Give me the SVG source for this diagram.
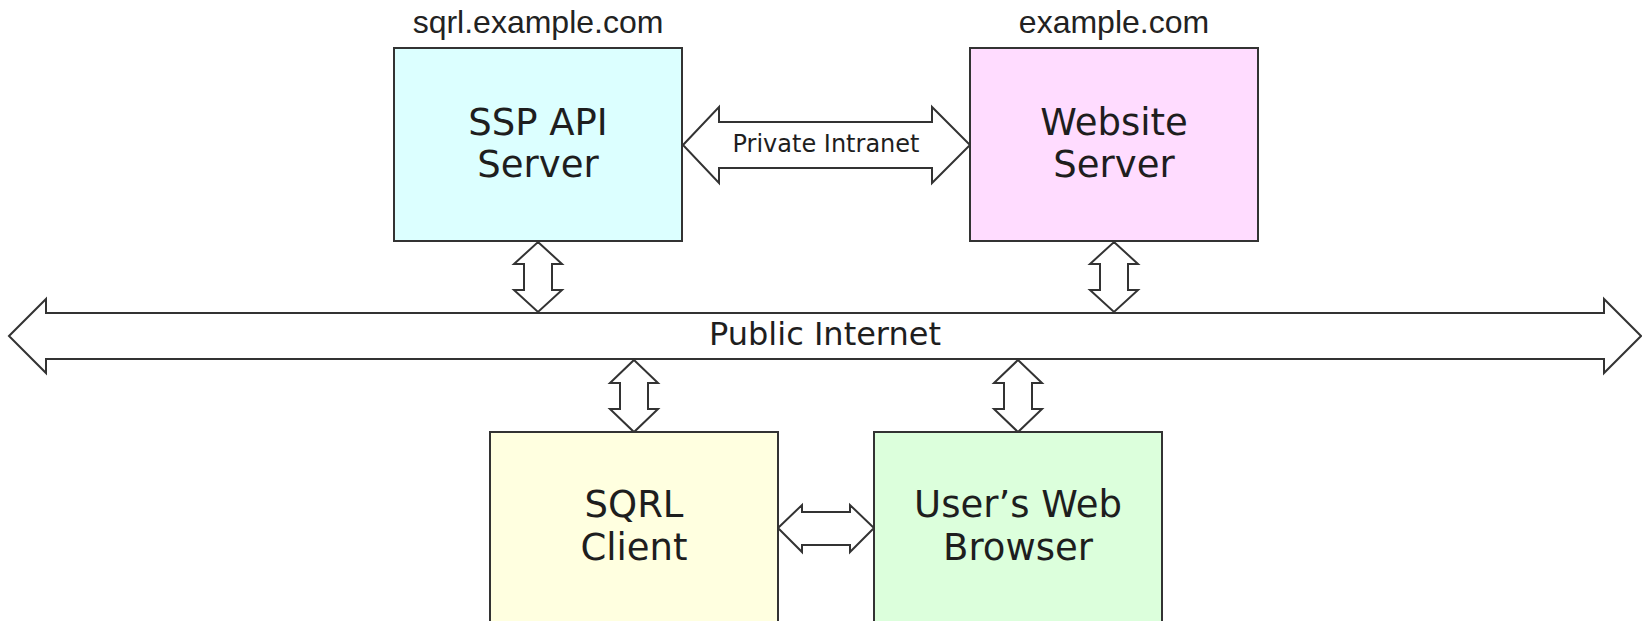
<svg xmlns="http://www.w3.org/2000/svg" width="1642" height="621" viewBox="0 0 1642 621">
  <style>
    .box { stroke: #333333; stroke-width: 2; }
    .pipe { fill: #ffffff; stroke: #333333; stroke-width: 2; stroke-linejoin: miter; }
    .lbl { font-family: "DejaVu Sans", Verdana, sans-serif; fill: #1e1e1e; text-anchor: middle; }
    .big { font-size: 37px; }
    .host { font-family: "Liberation Sans", Arial, sans-serif; font-size: 32px; fill: #222222; text-anchor: middle; }
  </style>

  <rect width="1642" height="621" fill="#ffffff"/>

  <!-- links between machines: hollow double-headed arrows -->
  <g id="connectors">
    <!-- Public Internet bus -->
    <path class="pipe" d="M9,336 L46,299 L46,313 L1604,313 L1604,299 L1641,336 L1604,373 L1604,359 L46,359 L46,373 Z"/>
    <text class="lbl" x="825" y="345" font-size="32">Public Internet</text>

    <!-- Private Intranet between the two servers -->
    <path class="pipe" d="M683,145 L719,107 L719,122 L932,122 L932,107 L970,145 L932,183 L932,168 L719,168 L719,183 Z"/>
    <text class="lbl" x="826" y="152" font-size="24">Private Intranet</text>

    <!-- SSP API server to bus -->
    <path class="pipe" d="M538,242 L562,264 L552,264 L552,290 L562,290 L538,312 L514,290 L524,290 L524,264 L514,264 Z"/>
    <!-- Website server to bus -->
    <path class="pipe" d="M1114,242 L1138,264 L1128,264 L1128,290 L1138,290 L1114,312 L1090,290 L1100,290 L1100,264 L1090,264 Z"/>
    <!-- bus to SQRL client -->
    <path class="pipe" d="M634,360 L658,383 L648,383 L648,409 L658,409 L634,432 L610,409 L620,409 L620,383 L610,383 Z"/>
    <!-- bus to web browser -->
    <path class="pipe" d="M1018,360 L1042,383 L1032,383 L1032,409 L1042,409 L1018,432 L994,409 L1004,409 L1004,383 L994,383 Z"/>
    <!-- SQRL client to web browser -->
    <path class="pipe" d="M778,528 L802,505 L802,512 L850,512 L850,505 L874,528 L850,552 L850,545 L802,545 L802,552 Z"/>
  </g>

  <g id="ssp-api-server">
    <text class="host" x="538" y="33">sqrl.example.com</text>
    <rect class="box" x="394" y="48" width="288" height="193" fill="#dcffff"/>
    <text class="lbl big" x="538" y="135">SSP API</text>
    <text class="lbl big" x="538" y="177">Server</text>
  </g>

  <g id="website-server">
    <text class="host" x="1114" y="33">example.com</text>
    <rect class="box" x="970" y="48" width="288" height="193" fill="#ffdcff"/>
    <text class="lbl big" x="1114" y="135">Website</text>
    <text class="lbl big" x="1114" y="177">Server</text>
  </g>

  <g id="sqrl-client">
    <rect class="box" x="490" y="432" width="288" height="220" fill="#ffffe0"/>
    <text class="lbl big" x="634" y="517">SQRL</text>
    <text class="lbl big" x="634" y="560">Client</text>
  </g>

  <g id="web-browser">
    <rect class="box" x="874" y="432" width="288" height="220" fill="#dcffdc"/>
    <text class="lbl big" x="1018" y="517">User’s Web</text>
    <text class="lbl big" x="1018" y="560">Browser</text>
  </g>
</svg>
